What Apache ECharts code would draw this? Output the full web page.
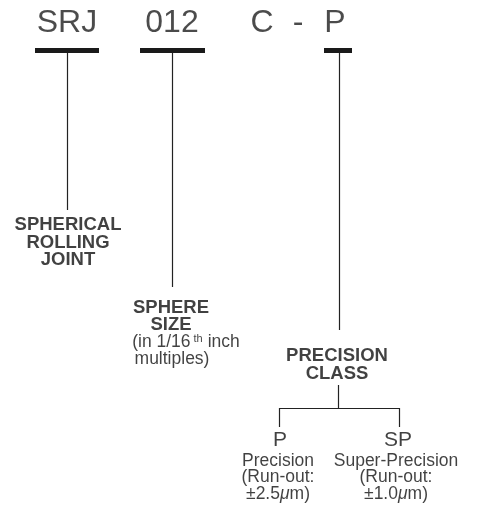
<!DOCTYPE html>
<html>
<head>
<meta charset="utf-8">
<script src="https://cdn.jsdelivr.net/npm/echarts@6/dist/echarts.min.js"></script>
<style>
  html, body { margin: 0; padding: 0; background: #fff; }
  #chart { width: 477px; height: 510px; }
</style>
</head>
<body>
<div id="chart"></div>
<script>
// part number pieces and what they mean
const codeParts = ['SRJ', '012', 'C', '-', 'P']
const jointTitle = ['SPHERICAL', 'ROLLING', 'JOINT']
const sizeTitle = ['SPHERE', 'SIZE']
const sizeNote = ['(in 1/16{sup|th}inch', 'multiples)']
const classTitle = ['PRECISION', 'CLASS']
const classCodes = ['P', 'SP']
const classNames = ['Precision', 'Super-Precision']
const runOut = ['±2.5', '±1.0']

// layout (page pixels, y down)
const codeX = [67, 172, 262, 298, 335]
const underlines = [[35, 99], [140, 205], [324, 352]]
const stems = [[67, 53, 210], [172, 53, 287], [339, 53, 330], [338, 385, 408]]
const branchX = [279, 399]
const classX = [280, 398]
const textFont = '"Liberation Sans", Arial, sans-serif'
const ink = '#111'

let chart = echarts.init(document.getElementById('chart'))

function textPoint (x, y, text, opts) {
  return {
    value: [x, y],
    label: Object.assign({
      show: true,
      position: 'inside',
      formatter: text,
      color: ink,
      fontFamily: textFont,
      fontSize: 17.5,
      align: 'center',
      verticalAlign: 'middle'
    }, opts || {})
  }
}

// texts
let texts = []
codeParts.forEach((v, k) => {
  texts.push(textPoint(codeX[k], 23, v, { fontSize: 32, color: '#1e1e1e' }))
})
jointTitle.forEach((v, k) => {
  texts.push(textPoint(68, 225 + k * 17.5, v, { fontWeight: 'bold', fontSize: 18.5 }))
})
sizeTitle.forEach((v, k) => {
  texts.push(textPoint(171, 308 + k * 17, v, { fontWeight: 'bold', fontSize: 18.5 }))
})
sizeNote.forEach((v, k) => {
  texts.push(textPoint(k === 0 ? 186 : 172, 342 + k * 17, v, {
    rich: {
      sup: { fontSize: 11, fontFamily: textFont, color: ink, verticalAlign: 'top', padding: [0, 5, 6, 3] }
    }
  }))
})
classTitle.forEach((v, k) => {
  texts.push(textPoint(337, 356 + k * 17.5, v, { fontWeight: 'bold', fontSize: 18.5 }))
})
classCodes.forEach((v, k) => {
  texts.push(textPoint(classX[k], 440, v, { fontSize: 21 }))
  texts.push(textPoint(classX[k] - 2, 461, classNames[k]))
  texts.push(textPoint(classX[k] - 2, 477.5, '(Run-out:'))
  texts.push(textPoint(classX[k] - 2, 494, runOut[k] + '{mu|μ}m)', {
    rich: { mu: { fontSize: 17.5, fontFamily: textFont, color: ink, fontStyle: 'italic' } }
  }))
})

// connector lines
let thinLines = stems.map(v => ({ coords: [[v[0], v[1]], [v[0], v[2]]] }))
thinLines.push({ coords: [[branchX[0], 408], [branchX[1], 408]] })
branchX.forEach(x => {
  thinLines.push({ coords: [[x, 408], [x, 427]] })
})
let thickLines = underlines.map(v => ({ coords: [[v[0], 50.5], [v[1], 50.5]] }))

let options = {
  animation: false,
  grid: { left: 0, right: 0, top: 0, bottom: 0 },
  xAxis: { type: 'value', min: 0, max: 477, show: false },
  yAxis: { type: 'value', min: 0, max: 510, inverse: true, show: false },
  series: [
    {
      type: 'lines',
      coordinateSystem: 'cartesian2d',
      polyline: false,
      data: thinLines,
      lineStyle: { color: '#222', width: 1.2, opacity: 1 },
      silent: true
    },
    {
      type: 'lines',
      coordinateSystem: 'cartesian2d',
      data: thickLines,
      lineStyle: { color: '#1a1a1a', width: 5, opacity: 1, cap: 'butt' },
      silent: true
    },
    {
      type: 'scatter',
      symbolSize: 0,
      data: texts,
      silent: true
    }
  ]
}
chart.setOption(options)
</script>
</body>
</html>
